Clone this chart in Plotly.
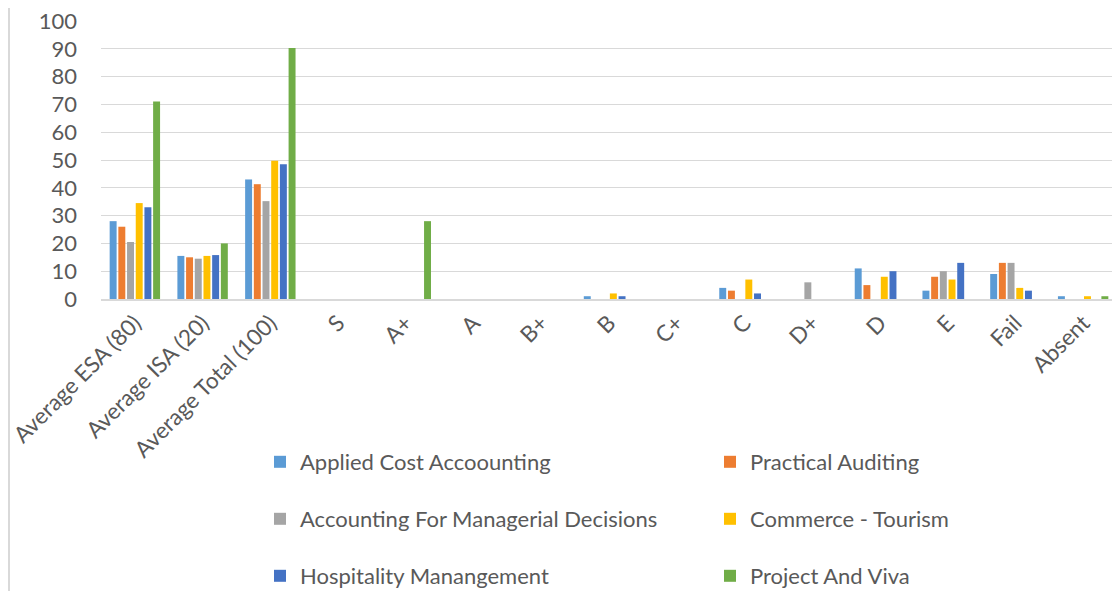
import plotly.graph_objects as go

categories = ["Average ESA (80)", "Average ISA (20)", "Average Total (100)", "S", "A+", "A", "B+", "B",
              "C+", "C", "D+", "D", "E", "Fail", "Absent"]

applied_cost = [28, 15.5, 43, 0, 0, 0, 0, 1, 0, 4, 0, 11, 3, 9, 1]
practical_auditing = [26, 15, 41.3, 0, 0, 0, 0, 0, 0, 3, 0, 5, 8, 13, 0]
accounting_managerial = [20.5, 14.5, 35.2, 0, 0, 0, 0, 0, 0, 0, 6, 0, 10, 13, 0]
commerce_tourism = [34.5, 15.5, 49.7, 0, 0, 0, 0, 2, 0, 7, 0, 8, 7, 4, 1]
hospitality = [33, 15.8, 48.5, 0, 0, 0, 0, 1, 0, 2, 0, 10, 13, 3, 0]
project_viva = [71, 20, 90.3, 0, 28, 0, 0, 0, 0, 0, 0, 0, 0, 0, 1]

series_names = ["Applied Cost Accoounting", "Practical Auditing", "Accounting For Managerial Decisions",
                "Commerce - Tourism", "Hospitality Manangement", "Project And Viva"]
series_values = [applied_cost, practical_auditing, accounting_managerial, commerce_tourism,
                 hospitality, project_viva]
series_colors = ["#5B9BD5", "#ED7D31", "#A5A5A5", "#FFC000", "#4472C4", "#70AD47"]

# the page places the figure 8px from the top-left corner; positions below are page pixels
OFF = 8
W, H = 1120, 591
plot_left, plot_right, plot_top, plot_bottom = 101, 1117, 21, 299
ml = plot_left - OFF
mt = plot_top - OFF
mr = W - (plot_right - OFF)
mb = H - (plot_bottom - OFF)
pw = W - ml - mr
ph = H - mt - mb


def px_x(p):
    return (p - OFF - ml) / pw


def px_y(p):
    return (H - mb - (p - OFF)) / ph


font_family = "Lato, 'Open Sans', sans-serif"
txt = "#595959"

legend_cols = [260, 710]
legend_rows = [462, 519, 576]

fig = go.Figure()
legends = {}
for i, (name, vals, color) in enumerate(zip(series_names, series_values, series_colors)):
    key = "legend" if i == 0 else f"legend{i + 1}"
    fig.add_trace(go.Bar(x=categories, y=vals, name=name, marker_color=color,
                         marker_line_width=0, legend=key))
    legends[key] = dict(orientation="h", xanchor="left", yanchor="middle",
                        x=px_x(legend_cols[i % 2]), y=px_y(legend_rows[i // 2]),
                        bgcolor="rgba(0,0,0,0)", itemclick=False, itemwidth=30,
                        font=dict(family=font_family, size=22, color=txt))

fig.update_layout(
    width=W, height=H,
    margin=dict(l=ml, r=mr, t=mt, b=mb, autoexpand=False),
    paper_bgcolor="white", plot_bgcolor="white",
    barmode="group", bargap=0.23, bargroupgap=0.2,
    font=dict(family=font_family, color=txt),
    showlegend=True,
    xaxis=dict(tickangle=-45, tickfont=dict(size=22.5, color=txt), showgrid=False,
               showline=True, linecolor="#d9d9d9", linewidth=2, ticks="",
               ticklabeloverflow="allow"),
    yaxis=dict(range=[0, 100], dtick=10, tickfont=dict(size=22, color=txt),
               gridcolor="#d9d9d9", gridwidth=1, zeroline=False, showline=False,
               ticklabelstandoff=23, ticklabeloverflow="allow"),
    shapes=[dict(type="line", xref="paper", yref="paper", x0=px_x(OFF + 1), x1=px_x(OFF + 1),
                 y0=px_y(OFF), y1=px_y(600), line=dict(color="#d9d9d9", width=2))],
    **legends,
)

fig.write_html("out.html")
